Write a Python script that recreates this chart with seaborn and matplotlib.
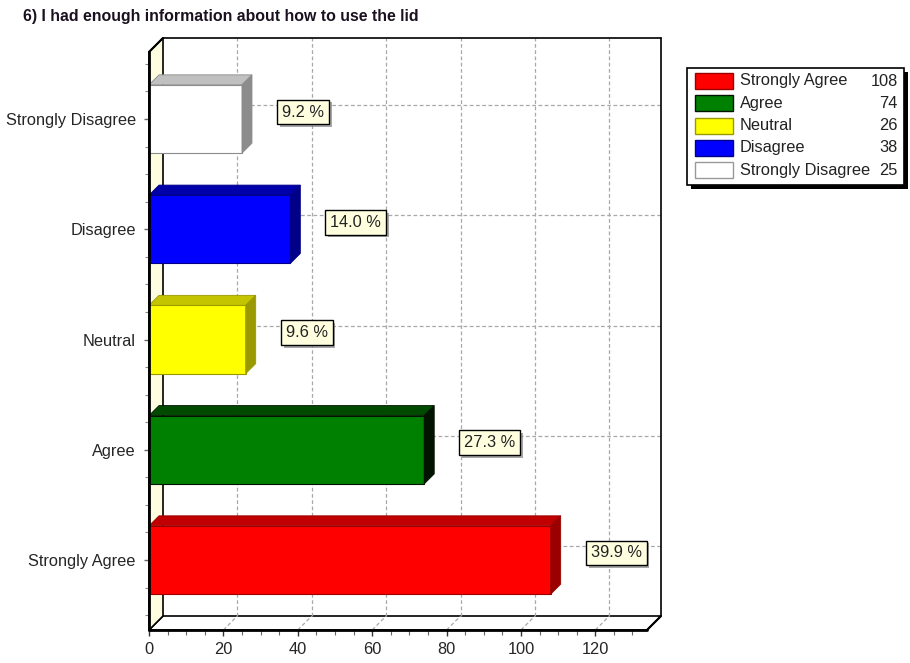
import numpy as np
import matplotlib
matplotlib.use('Agg')
import matplotlib.pyplot as plt
import matplotlib.patheffects as pe
from matplotlib.patches import Polygon, Rectangle
from matplotlib.ticker import MultipleLocator, FixedLocator
import seaborn as sns
import pandas as pd

# data
categories = ["Strongly Agree", "Agree", "Neutral", "Disagree", "Strongly Disagree"]
counts = [108, 74, 26, 38, 25]
face_colors = ["#FF0000", "#008000", "#FFFF00", "#0000FF", "#FFFFFF"]
top_colors = ["#C00000", "#004A00", "#C4C400", "#0000A8", "#C0C0C0"]
side_colors = ["#9A0000", "#001400", "#9A9A00", "#000088", "#8C8C8C"]
title = "6) I had enough information about how to use the lid"

W, H = 910, 663
DEPTH = 14      # wall depth in px
BAR_DEPTH = 10  # bar depth in px
FS = 11.8
FONT = ['Liberation Sans', 'DejaVu Sans']

sns.set_style("white")
plt.rcParams['font.family'] = FONT
plt.rcParams['text.color'] = '#222222'

df = pd.DataFrame({"category": categories, "count": counts})
order = categories[::-1]  # strongly disagree on top
pal = dict(zip(categories, face_colors))
tops = dict(zip(categories, top_colors))
sides = dict(zip(categories, side_colors))

fig = plt.figure(figsize=(W / 100, H / 100), dpi=100)


def fpx(x, y):
    # pixel coords from top-left -> figure fraction
    return x / W, 1 - y / H


ax = fig.add_axes([149 / W, (H - 630) / H, (647 - 149) / W, (630 - 52) / H])
sns.barplot(data=df, y="category", x="count", order=order, hue="category",
            hue_order=order, palette=pal, saturation=1, orient="h", width=0.62,
            legend=False, ax=ax, edgecolor="none", zorder=3)
bars = [p for p in ax.patches if isinstance(p, Rectangle)]
xmax = 133.9
ylo, yhi = 4.635, -0.608
ax.set_xlim(0, xmax)
ax.set_ylim(ylo, yhi)
for s in ax.spines.values():
    s.set_visible(False)
ax.set_xlabel("")
ax.set_ylabel("")
ax.patch.set_alpha(0)


def shift(x, y, dx, dy):
    px = ax.transData.transform((x, y))
    return tuple(ax.transData.inverted().transform((px[0] + dx, px[1] + dy)))


def poly(pts, fc, ec, lw=1.0, z=2, ls='-'):
    ax.add_patch(Polygon(pts, closed=True, facecolor=fc, edgecolor=ec,
                         linewidth=lw, zorder=z, clip_on=False, linestyle=ls))


def line(p, q, **kw):
    ax.plot([p[0], q[0]], [p[1], q[1]], clip_on=False, **kw)


# walls
bottom, top = ylo, yhi
poly([(0, bottom), (xmax, bottom), shift(xmax, bottom, DEPTH, DEPTH),
      shift(0, bottom, DEPTH, DEPTH)], 'white', 'black', 1.2, 1)
poly([(0, bottom), (0, top), shift(0, top, DEPTH, DEPTH),
      shift(0, bottom, DEPTH, DEPTH)], '#FFFDE0', 'black', 1.2, 1)

# grid on back plane and floor
grid_kw = dict(color='#A8A8A8', linestyle=(0, (3, 2)), linewidth=0.9, zorder=1.5)
for t in range(20, 121, 20):
    line(shift(t, bottom, DEPTH, DEPTH), shift(t, top, DEPTH, DEPTH), **grid_kw)
    line((t, bottom), shift(t, bottom, DEPTH, DEPTH), **grid_kw)
for i in range(len(order)):
    line(shift(0, i, DEPTH, DEPTH), shift(xmax, i, DEPTH, DEPTH), **grid_kw)

# back plane outline
p1 = shift(0, top, DEPTH, DEPTH)
p2 = shift(xmax, top, DEPTH, DEPTH)
p3 = shift(xmax, bottom, DEPTH, DEPTH)
line(p1, p2, color='black', linewidth=1.2, zorder=2)
line(p2, p3, color='black', linewidth=1.2, zorder=2)
# thick front edges
line((0, bottom), (xmax, bottom), color='black', linewidth=2.0, zorder=6)
line((0, bottom), (0, top), color='black', linewidth=2.0, zorder=6)
line((0, top), shift(0, top, DEPTH, DEPTH), color='black', linewidth=1.5, zorder=6)
line((xmax, bottom), shift(xmax, bottom, DEPTH, DEPTH), color='black', linewidth=1.5, zorder=6)

# 3d bar faces
total = sum(counts)
for bar in bars:
    if bar.get_width() <= 0:
        continue
    x0 = bar.get_x()
    x1 = x0 + bar.get_width()
    yt = bar.get_y()
    yb = yt + bar.get_height()
    yc = (yt + yb) / 2
    cat = order[int(round(yc))]
    bar.set_edgecolor(sides[cat])
    bar.set_linewidth(0.8)
    poly([(x0, yt), (x1, yt), shift(x1, yt, BAR_DEPTH, BAR_DEPTH),
          shift(x0, yt, BAR_DEPTH, BAR_DEPTH)], tops[cat], sides[cat], 0.6, 3)
    poly([(x1, yt), (x1, yb), shift(x1, yb, BAR_DEPTH, BAR_DEPTH),
          shift(x1, yt, BAR_DEPTH, BAR_DEPTH)], sides[cat], sides[cat], 0.6, 3)
    val = bar.get_width()
    t = ax.annotate(f"{val / total * 100:.1f} %", xy=(val, yc), xytext=(40, 7),
                    textcoords='offset pixels', ha='left', va='center',
                    fontsize=FS, zorder=8,
                    bbox=dict(boxstyle='square,pad=0.3', facecolor='#FFFFE0',
                              edgecolor='black', linewidth=1.0))
    t.get_bbox_patch().set_path_effects([
        pe.SimplePatchShadow(offset=(2, -2), shadow_rgbFace='#808080', alpha=0.7),
        pe.Normal()])

# ticks
ax.xaxis.set_major_locator(MultipleLocator(20))
ax.xaxis.set_minor_locator(MultipleLocator(5))
ax.yaxis.set_minor_locator(FixedLocator(np.arange(-0.5, 4.6, 0.25)))
ax.tick_params(axis='x', which='major', length=4.5, width=1, color='#333333',
               labelsize=FS, pad=4, bottom=True)
ax.tick_params(axis='x', which='minor', length=3.5, width=0.8, color='#666666', bottom=True)
ax.tick_params(axis='y', which='major', length=3.6, width=1, color='#666666',
               labelsize=FS, pad=6, left=True)
ax.tick_params(axis='y', which='minor', length=3, width=0.8, color='#888888', left=True)
ax.set_yticks(range(len(order)))
ax.set_yticklabels(order)

# title
fig.text(*fpx(23, 17), title, fontsize=11.4, fontweight='bold', ha='left',
         va='center', color='#1a1020')

# legend drawn by hand
lx0, ly0, lx1, ly1 = 687, 68, 904, 185
fig.patches.append(Rectangle(fpx(lx0 + 4, ly1 + 4), (lx1 - lx0) / W, (ly1 - ly0) / H,
                             transform=fig.transFigure, facecolor='black',
                             edgecolor='none', zorder=1))
fig.patches.append(Rectangle(fpx(lx0, ly1), (lx1 - lx0) / W, (ly1 - ly0) / H,
                             transform=fig.transFigure, facecolor='white',
                             edgecolor='black', linewidth=1.2, zorder=2))
for i, (cat, n) in enumerate(zip(categories, counts)):
    yc = 81 + i * 22.3
    fig.patches.append(Rectangle(fpx(695, yc + 8), 38 / W, 16 / H,
                                 transform=fig.transFigure, facecolor=pal[cat],
                                 edgecolor=sides[cat] if cat != "Strongly Disagree" else '#999999',
                                 linewidth=1, zorder=3))
    fig.text(*fpx(740, yc), cat, fontsize=FS, ha='left', va='center', zorder=4)
    fig.text(*fpx(898, yc), str(n), fontsize=FS, ha='right', va='center', zorder=4)

fig.savefig("out.png", dpi=100)
